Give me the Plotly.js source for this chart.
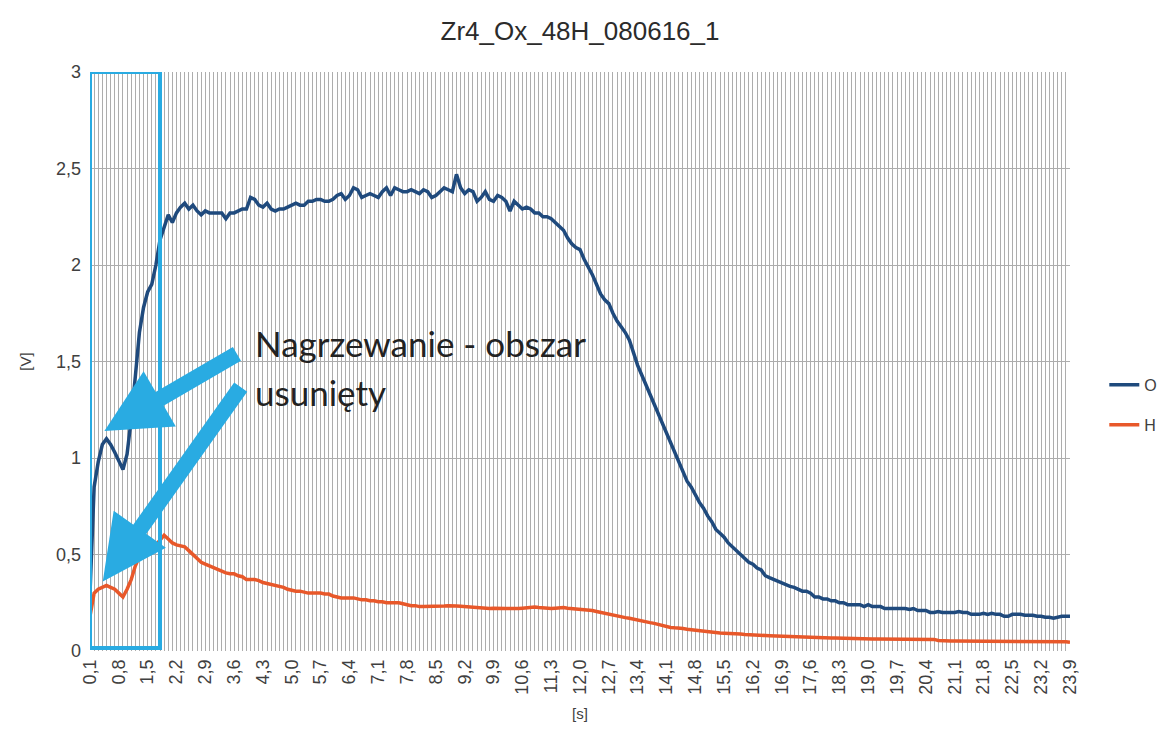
<!DOCTYPE html>
<html>
<head>
<meta charset="utf-8">
<script src="https://cdn.plot.ly/plotly-3.0.1.min.js"></script>
<style>html,body{margin:0;padding:0;background:#fff;}#chart{width:1174px;height:738px;}</style>
</head>
<body>
<div id="chart"></div>
<script>
// time [s]
const time = [
0.1,0.2,0.3,0.4,0.5,0.6,0.7,0.8,0.9,1.0,
1.1,1.2,1.3,1.4,1.5,1.6,1.7,1.8,1.9,2.0,
2.1,2.2,2.3,2.4,2.5,2.6,2.7,2.8,2.9,3.0,
3.1,3.2,3.3,3.4,3.5,3.6,3.7,3.8,3.9,4.0,
4.1,4.2,4.3,4.4,4.5,4.6,4.7,4.8,4.9,5.0,
5.1,5.2,5.3,5.4,5.5,5.6,5.7,5.8,5.9,6.0,
6.1,6.2,6.3,6.4,6.5,6.6,6.7,6.8,6.9,7.0,
7.1,7.2,7.3,7.4,7.5,7.6,7.7,7.8,7.9,8.0,
8.1,8.2,8.3,8.4,8.5,8.6,8.7,8.8,8.9,9.0,
9.1,9.2,9.3,9.4,9.5,9.6,9.7,9.8,9.9,10.0,
10.1,10.2,10.3,10.4,10.5,10.6,10.7,10.8,10.9,11.0,
11.1,11.2,11.3,11.4,11.5,11.6,11.7,11.8,11.9,12.0,
12.1,12.2,12.3,12.4,12.5,12.6,12.7,12.8,12.9,13.0,
13.1,13.2,13.3,13.4,13.5,13.6,13.7,13.8,13.9,14.0,
14.1,14.2,14.3,14.4,14.5,14.6,14.7,14.8,14.9,15.0,
15.1,15.2,15.3,15.4,15.5,15.6,15.7,15.8,15.9,16.0,
16.1,16.2,16.3,16.4,16.5,16.6,16.7,16.8,16.9,17.0,
17.1,17.2,17.3,17.4,17.5,17.6,17.7,17.8,17.9,18.0,
18.1,18.2,18.3,18.4,18.5,18.6,18.7,18.8,18.9,19.0,
19.1,19.2,19.3,19.4,19.5,19.6,19.7,19.8,19.9,20.0,
20.1,20.2,20.3,20.4,20.5,20.6,20.7,20.8,20.9,21.0,
21.1,21.2,21.3,21.4,21.5,21.6,21.7,21.8,21.9,22.0,
22.1,22.2,22.3,22.4,22.5,22.6,22.7,22.8,22.9,23.0,
23.1,23.2,23.3,23.4,23.5,23.6,23.7,23.8,23.9
];

// series O [V]
const seriesO = [
0.30,0.85,0.98,1.07,1.10,1.07,1.03,0.98,0.94,1.02,
1.20,1.42,1.65,1.78,1.86,1.90,2.00,2.13,2.20,2.26,
2.22,2.27,2.30,2.32,2.29,2.31,2.28,2.26,2.28,2.27,
2.27,2.27,2.27,2.24,2.27,2.27,2.28,2.29,2.29,2.35,
2.34,2.31,2.30,2.32,2.29,2.28,2.29,2.29,2.30,2.31,
2.32,2.31,2.31,2.33,2.33,2.34,2.34,2.33,2.33,2.34,
2.36,2.37,2.34,2.36,2.40,2.39,2.35,2.36,2.37,2.36,
2.35,2.38,2.40,2.36,2.40,2.39,2.38,2.38,2.39,2.38,
2.37,2.39,2.38,2.35,2.36,2.38,2.40,2.39,2.38,2.47,
2.40,2.37,2.39,2.38,2.33,2.35,2.38,2.34,2.33,2.36,
2.35,2.33,2.28,2.33,2.31,2.29,2.30,2.29,2.27,2.27,
2.25,2.25,2.24,2.22,2.20,2.18,2.14,2.11,2.09,2.08,
2.03,1.99,1.95,1.90,1.85,1.82,1.80,1.75,1.71,1.68,
1.65,1.61,1.54,1.48,1.43,1.38,1.32,1.27,1.22,1.18,
1.13,1.07,1.02,0.97,0.93,0.88,0.85,0.81,0.77,0.74,
0.70,0.67,0.63,0.61,0.59,0.56,0.54,0.52,0.50,0.48,
0.46,0.45,0.43,0.42,0.39,0.38,0.37,0.36,0.35,0.34,
0.335,0.33,0.32,0.31,0.31,0.30,0.28,0.28,0.27,0.27,
0.26,0.26,0.25,0.25,0.24,0.24,0.24,0.24,0.23,0.24,
0.23,0.23,0.23,0.22,0.22,0.22,0.22,0.22,0.22,0.215,
0.22,0.21,0.21,0.21,0.20,0.20,0.205,0.20,0.20,0.20,
0.20,0.205,0.20,0.20,0.19,0.19,0.19,0.195,0.19,0.195,
0.19,0.19,0.18,0.18,0.19,0.19,0.19,0.185,0.185,0.185,
0.18,0.18,0.175,0.175,0.17,0.175,0.18,0.18,0.18
];

// series H [V]
const seriesH = [
0.18,0.30,0.32,0.33,0.34,0.33,0.32,0.30,0.28,0.32,
0.37,0.44,0.49,0.52,0.53,0.54,0.55,0.575,0.60,0.58,
0.56,0.55,0.545,0.54,0.52,0.50,0.48,0.46,0.45,0.44,
0.43,0.42,0.41,0.405,0.40,0.40,0.39,0.385,0.37,0.37,
0.37,0.365,0.355,0.35,0.345,0.34,0.335,0.33,0.32,0.315,
0.31,0.31,0.305,0.30,0.30,0.30,0.30,0.295,0.295,0.285,
0.28,0.275,0.275,0.275,0.275,0.27,0.265,0.265,0.26,0.26,
0.255,0.255,0.25,0.25,0.25,0.25,0.245,0.24,0.235,0.235,
0.23,0.23,0.23,0.23,0.23,0.233,0.233,0.235,0.232,0.233,
0.232,0.23,0.228,0.225,0.222,0.22,0.22,0.22,0.222,0.22,
0.22,0.22,0.22,0.218,0.22,0.222,0.225,0.228,0.228,0.225,
0.222,0.22,0.22,0.222,0.225,0.225,0.222,0.22,0.22,0.218,
0.218,0.215,0.21,0.205,0.20,0.195,0.19,0.185,0.18,0.177,
0.173,0.17,0.165,0.158,0.153,0.15,0.147,0.143,0.137,0.13,
0.125,0.122,0.12,0.12,0.117,0.113,0.11,0.108,0.106,0.105,
0.10,0.098,0.095,0.093,0.092,0.092,0.092,0.09,0.088,0.086,
0.084,0.083,0.082,0.08,0.08,0.079,0.078,0.078,0.077,0.076,
0.075,0.074,0.073,0.072,0.072,0.071,0.07,0.07,0.069,0.068,
0.067,0.067,0.066,0.066,0.065,0.065,0.064,0.063,0.063,0.062,
0.062,0.062,0.062,0.062,0.062,0.062,0.062,0.062,0.062,0.062,
0.062,0.062,0.062,0.062,0.062,0.06,0.055,0.053,0.052,0.052,
0.052,0.052,0.052,0.052,0.052,0.052,0.052,0.052,0.052,0.052,
0.052,0.052,0.052,0.052,0.052,0.052,0.052,0.052,0.052,0.052,
0.052,0.052,0.052,0.052,0.052,0.052,0.05,0.048,0.045
];

const seriesNames = ['O', 'H'];
const chartTitle = 'Zr4_Ox_48H_080616_1';
const xTitle = '[s]';
const yTitle = '[V]';
const noteLine1 = 'Nagrzewanie - obszar';
const noteLine2 = 'usunięty';

const blue = '#29ABE2';
const txt = '#404040';
const grid = '#ADADAD';

const traces = [
  {x: time, y: seriesO, name: seriesNames[0], type: 'scatter', mode: 'lines',
   legendgroup: 'a', line: {color: '#1F4A7D', width: 3.5}},
  {x: time, y: seriesH, name: seriesNames[1], type: 'scatter', mode: 'lines',
   legendgroup: 'b', line: {color: '#E8582A', width: 3.5}}
];

const layout = {
  width: 1174, height: 738,
  margin: {l: 90, r: 104, t: 72, b: 87},
  paper_bgcolor: '#ffffff', plot_bgcolor: '#ffffff',
  separators: ', ',
  font: {family: 'Liberation Sans, Arial, sans-serif', color: txt, size: 16},
  title: {text: chartTitle, x: 0.5, xref: 'paper', y: 0.958, yref: 'container', yanchor: 'middle',
          font: {family: 'Liberation Sans, Arial, sans-serif', size: 26, color: '#2b2b2b'}},
  showlegend: true,
  legend: {x: 1.035, xanchor: 'left', y: 0.425, yanchor: 'middle', tracegroupgap: 16,
           font: {size: 16, color: txt}, bgcolor: 'rgba(0,0,0,0)'},
  xaxis: {
    range: [0.1, 23.9], tick0: 0.1, dtick: 0.7, tickformat: '.1f', tickangle: -90,
    showgrid: true, gridcolor: grid, gridwidth: 1, zeroline: false, showline: false,
    ticks: '', ticklabelstandoff: 4,
    tickfont: {size: 18, color: txt},
    minor: {tick0: 0.1, dtick: 0.1, showgrid: true, gridcolor: grid, gridwidth: 1, ticks: ''},
    title: {text: xTitle, font: {size: 15, color: txt}, standoff: 14}
  },
  yaxis: {
    range: [0, 3], dtick: 0.5, tick0: 0, showgrid: true, gridcolor: grid, gridwidth: 1,
    zeroline: false, showline: false, ticks: '', ticklabelstandoff: 8,
    tickfont: {size: 18, color: txt},
    title: {text: yTitle, font: {size: 15, color: txt}, standoff: 20}
  },
  shapes: [
    {type: 'rect', xref: 'x', yref: 'y', x0: 0.1, x1: 1.8, y0: 0.015, y1: 3.0,
     line: {color: blue, width: 4}, fillcolor: 'rgba(0,0,0,0)', layer: 'above'}
  ],
  annotations: [
    {xref: 'paper', yref: 'paper', x: 0.166, y: (651 - 343) / 579, xanchor: 'left', yanchor: 'middle',
     text: noteLine1, showarrow: false, font: {family: 'Lato, Open Sans, sans-serif', size: 35, color: '#222222'}},
    {xref: 'paper', yref: 'paper', x: 0.166, y: (651 - 392) / 579, xanchor: 'left', yanchor: 'middle',
     text: noteLine2, showarrow: false, font: {family: 'Lato, Open Sans, sans-serif', size: 35, color: '#222222'}},
    {xref: 'x', yref: 'y', x: 0.45, y: 1.14, ax: 134, ay: -78, text: '', showarrow: true,
     arrowhead: 2, arrowsize: 0.8, arrowwidth: 16, arrowcolor: blue, standoff: 0},
    {xref: 'x', yref: 'y', x: 0.41, y: 0.36, ax: 139, ay: -196, text: '', showarrow: true,
     arrowhead: 2, arrowsize: 0.8, arrowwidth: 16, arrowcolor: blue, standoff: 0}
  ]
};

Plotly.newPlot('chart', traces, layout, {displayModeBar: false, staticPlot: true});
</script>
</body>
</html>
